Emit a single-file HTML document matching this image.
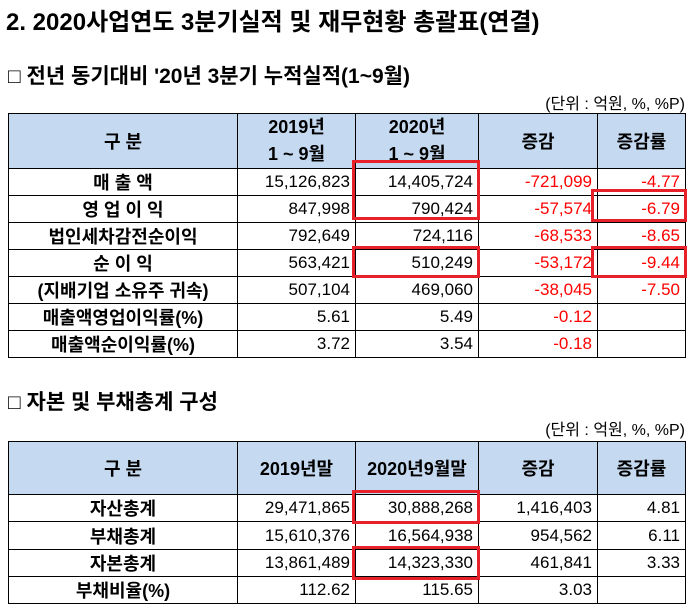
<!DOCTYPE html>
<html><head><meta charset="utf-8"><style>
body{margin:0;width:689px;height:610px;background:#fff;position:relative;overflow:hidden;font-family:"Liberation Sans","Noto Sans CJK KR",sans-serif;color:#000}
.abs{position:absolute}
table{position:absolute;left:8px;border-collapse:collapse;table-layout:fixed}
td{border:1px solid #000;font-size:17px;padding:0 5px;white-space:nowrap;overflow:hidden}
td.l{text-align:center;font-weight:bold;font-size:18px}
td.n{text-align:right}
td.r{color:#ff0000}
tr.h td{background:#c5d9f1;font-weight:bold;text-align:center;font-size:18px}
.box{position:absolute;border:3px solid #e8202a;box-sizing:border-box}
</style></head><body>
<div class="abs" style="left:6px;top:2px;font-size:24px;font-weight:bold">2. 2020사업연도 3분기실적 및 재무현황 총괄표(연결)</div>
<div class="abs" style="left:8px;top:60px;font-size:21px;font-weight:bold">□ 전년 동기대비 '20년 3분기 누적실적(1~9월)</div>
<div class="abs" style="right:4px;top:90px;font-size:16px">(단위 : 억원, %, %P)</div>
<table style="top:113px">
<colgroup><col style="width:229px"><col style="width:118px"><col style="width:123px"><col style="width:119px"><col style="width:88px"></colgroup>
<tr class="h" style="height:54px"><td>구 분</td><td style="line-height:27px">2019년<br>1 ~ 9월</td><td style="line-height:27px">2020년<br>1 ~ 9월</td><td>증감</td><td>증감률</td></tr>
<tr style="height:27px"><td class="l">매 출 액</td><td class="n">15,126,823</td><td class="n">14,405,724</td><td class="n r">-721,099</td><td class="n r">-4.77</td></tr>
<tr style="height:27px"><td class="l">영 업 이 익</td><td class="n">847,998</td><td class="n">790,424</td><td class="n r">-57,574</td><td class="n r">-6.79</td></tr>
<tr style="height:27px"><td class="l">법인세차감전순이익</td><td class="n">792,649</td><td class="n">724,116</td><td class="n r">-68,533</td><td class="n r">-8.65</td></tr>
<tr style="height:27px"><td class="l">순 이 익</td><td class="n">563,421</td><td class="n">510,249</td><td class="n r">-53,172</td><td class="n r">-9.44</td></tr>
<tr style="height:27px"><td class="l">(지배기업 소유주 귀속)</td><td class="n">507,104</td><td class="n">469,060</td><td class="n r">-38,045</td><td class="n r">-7.50</td></tr>
<tr style="height:27px"><td class="l">매출액영업이익률(%)</td><td class="n">5.61</td><td class="n">5.49</td><td class="n r">-0.12</td><td></td></tr>
<tr style="height:27px"><td class="l">매출액순이익률(%)</td><td class="n">3.72</td><td class="n">3.54</td><td class="n r">-0.18</td><td></td></tr>
</table>
<div class="box" style="left:352px;top:160px;width:128px;height:60px"></div>
<div class="box" style="left:591px;top:189px;width:96px;height:33px"></div>
<div class="box" style="left:352px;top:246px;width:128px;height:32px"></div>
<div class="box" style="left:591px;top:246px;width:96px;height:32px"></div>

<div class="abs" style="left:8px;top:386px;font-size:21px;font-weight:bold">□ 자본 및 부채총계 구성</div>
<div class="abs" style="right:4px;top:416px;font-size:16px">(단위 : 억원, %, %P)</div>
<table style="top:441px">
<colgroup><col style="width:229px"><col style="width:118px"><col style="width:123px"><col style="width:119px"><col style="width:88px"></colgroup>
<tr class="h" style="height:53px"><td>구 분</td><td>2019년말</td><td>2020년9월말</td><td>증감</td><td>증감률</td></tr>
<tr style="height:27px"><td class="l">자산총계</td><td class="n">29,471,865</td><td class="n">30,888,268</td><td class="n">1,416,403</td><td class="n">4.81</td></tr>
<tr style="height:28px"><td class="l">부채총계</td><td class="n">15,610,376</td><td class="n">16,564,938</td><td class="n">954,562</td><td class="n">6.11</td></tr>
<tr style="height:27px"><td class="l">자본총계</td><td class="n">13,861,489</td><td class="n">14,323,330</td><td class="n">461,841</td><td class="n">3.33</td></tr>
<tr style="height:26px"><td class="l">부채비율(%)</td><td class="n">112.62</td><td class="n">115.65</td><td class="n">3.03</td><td></td></tr>
</table>
<div class="box" style="left:352px;top:490px;width:128px;height:34px"></div>
<div class="box" style="left:352px;top:546px;width:128px;height:34px"></div>
</body></html>
